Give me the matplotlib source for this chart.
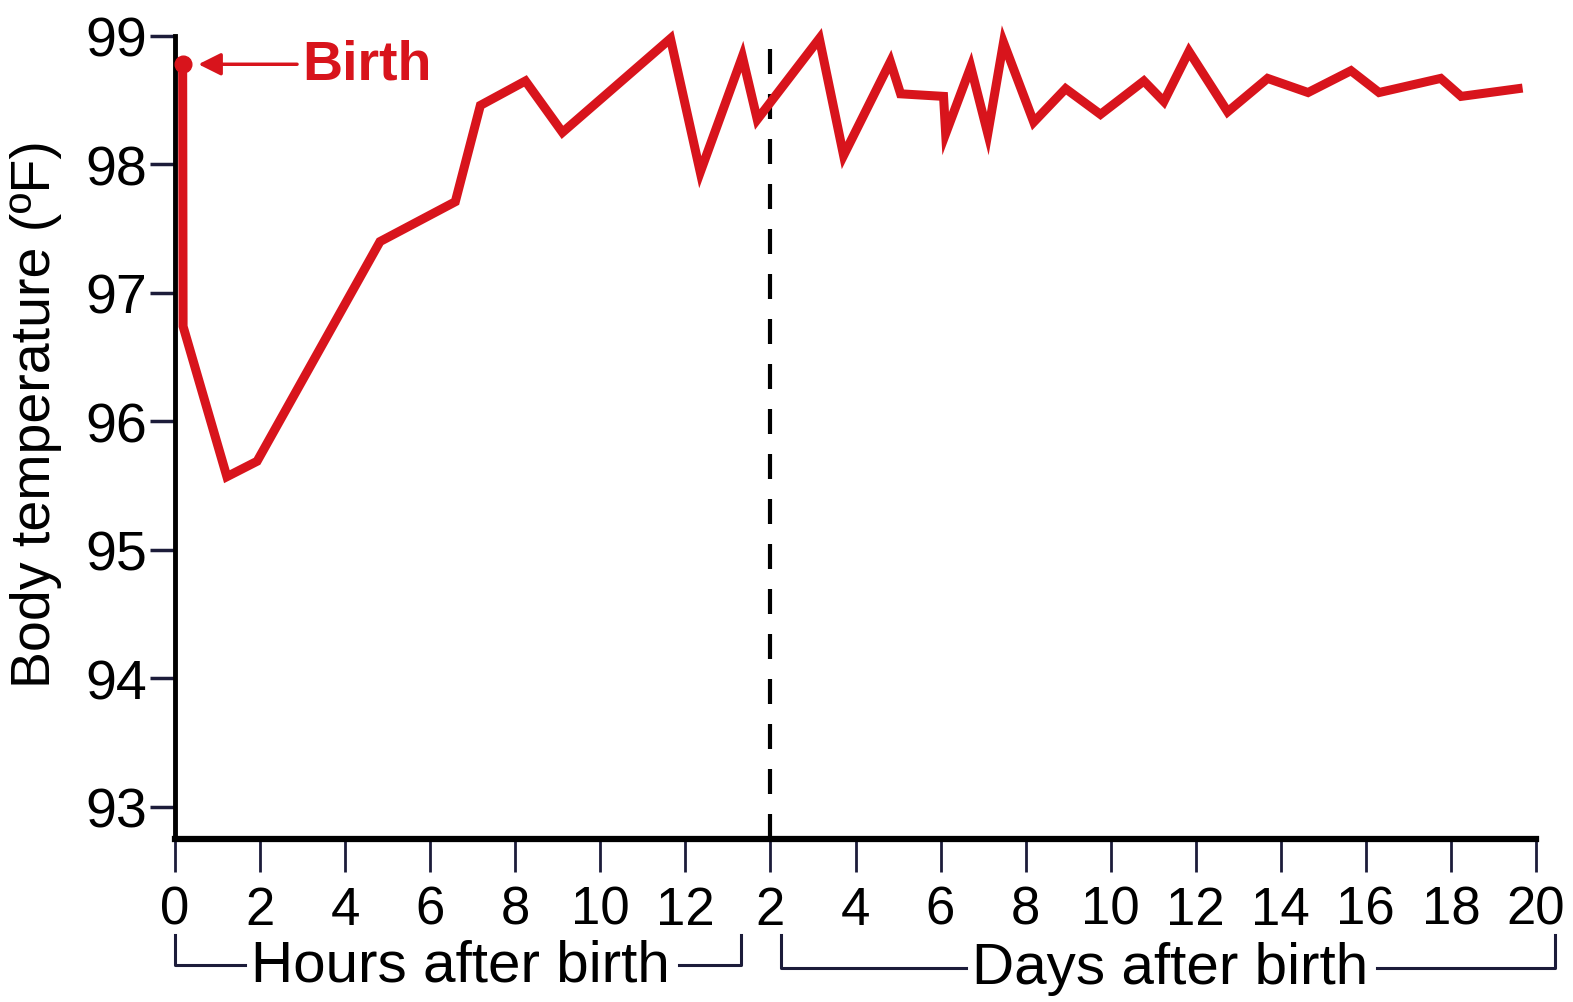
import matplotlib
matplotlib.use("Agg")
import matplotlib.pyplot as plt
from matplotlib.lines import Line2D
import matplotlib.transforms as mtransforms

# ---- data ----
# first segment: hours after birth
hours = [0.18, 0.19, 1.22, 1.93, 4.82, 6.59, 7.18, 8.24, 9.11, 11.65, 12.35, 13.34, 13.69]
temp_hours = [98.78, 96.74, 95.57, 95.69, 97.40, 97.71, 98.46, 98.65, 98.25, 98.98, 97.94, 98.84, 98.35]
# second segment: days after birth
days = [3.15, 3.72, 4.82, 5.06, 6.07, 6.12, 6.71, 7.11, 7.48, 8.19, 8.94, 9.76, 10.78,
        11.25, 11.84, 12.75, 13.69, 14.64, 15.65, 16.31, 17.76, 18.24, 19.58]
temp_days = [98.98, 98.07, 98.80, 98.55, 98.53, 98.24, 98.76, 98.24, 98.95, 98.33, 98.59,
             98.39, 98.65, 98.49, 98.88, 98.41, 98.67, 98.56, 98.73, 98.56, 98.67, 98.53, 98.59]
birth_point = (0.18, 98.78)

hour_ticks = [0, 2, 4, 6, 8, 10, 12]
day_ticks = [2, 4, 6, 8, 10, 12, 14, 16, 18, 20]
y_ticks = [93, 94, 95, 96, 97, 98, 99]
DAY_OFFSET = 12  # day d sits at axis position d + 12 (day 2 right after hour 12)

RED = "#d8141c"
NAVY = "#1c1c3a"

plt.rcParams['font.family'] = ['Liberation Sans', 'DejaVu Sans']

fig = plt.figure(figsize=(15.73, 10.03), dpi=100)
ax = fig.add_axes([175/1573, 1 - 840/1003, (1536-175)/1573, (840-37)/1003])

xs = hours + [d + DAY_OFFSET for d in days]
ys = temp_hours + temp_days
ax.plot(xs, ys, color=RED, lw=6.5, solid_joinstyle='miter', clip_on=False, zorder=3)
ax.plot([birth_point[0]], [birth_point[1]], 'o', color=RED, ms=12, clip_on=False, zorder=4)

# dashed separator at day 2
ax.plot([2 + DAY_OFFSET, 2 + DAY_OFFSET], [92.75, 99.0], color='black', lw=3,
        dashes=(6, 4.8), zorder=2, clip_on=False)

ax.set_xlim(0, 32)
ax.set_ylim(92.75, 99.0)

tick_pos = hour_ticks + [d + DAY_OFFSET for d in day_ticks]
tick_lab = [str(h) for h in hour_ticks] + [str(d) for d in day_ticks]
ax.set_xticks(tick_pos)
ax.set_xticklabels(tick_lab)
ax.set_yticks(y_ticks)
ax.set_yticklabels([str(v) for v in y_ticks])

for s in ['top', 'right']:
    ax.spines[s].set_visible(False)
ax.spines['left'].set_linewidth(3.5)
ax.spines['bottom'].set_linewidth(4.5)
ax.spines['bottom'].set_bounds(0, 32)
ax.spines['left'].set_bounds(92.75, 99.0)

ax.tick_params(axis='x', direction='out', length=24, width=2, color=NAVY,
               labelsize=38, pad=9)
ax.tick_params(axis='y', direction='out', length=18, width=2.5, color=NAVY,
               labelsize=40, pad=2)

ax.set_ylabel("Body temperature (ºF)", fontsize=40)
ax.yaxis.set_label_coords(-0.083, 0.53)

# Birth annotation
ax.annotate("Birth", xy=(0.55, birth_point[1]), xytext=(3.0, birth_point[1]),
            color=RED, fontsize=40, fontweight='bold', va='center', ha='left',
            arrowprops=dict(arrowstyle='-|>', color=RED, lw=2.5, mutation_scale=34,
                            shrinkA=2, shrinkB=0))

# bracket labels below the axis
tr = mtransforms.blended_transform_factory(ax.transData, ax.transAxes)
y_top, y_bot = -0.120, -0.157
br_kw = dict(color=NAVY, lw=2.2, transform=tr, clip_on=False)
bracket_lines = [
    ([0.0, 0.0, 1.65], [y_top, y_bot, y_bot]),
    ([11.85, 13.3, 13.3], [y_bot, y_bot, y_top]),
    ([14.25, 14.25, 18.6], [y_top, y_bot - 0.004, y_bot - 0.004]),
    ([28.25, 32.45, 32.45], [y_bot - 0.004, y_bot - 0.004, y_top]),
]
for lx, ly in bracket_lines:
    ax.add_line(Line2D(lx, ly, **br_kw))
ax.text(6.7, y_bot, "Hours after birth", transform=tr, ha='center', va='center',
        fontsize=42)
ax.text(23.4, y_bot - 0.004, "Days after birth", transform=tr, ha='center', va='center',
        fontsize=42)

fig.savefig("out.png", dpi=100)
